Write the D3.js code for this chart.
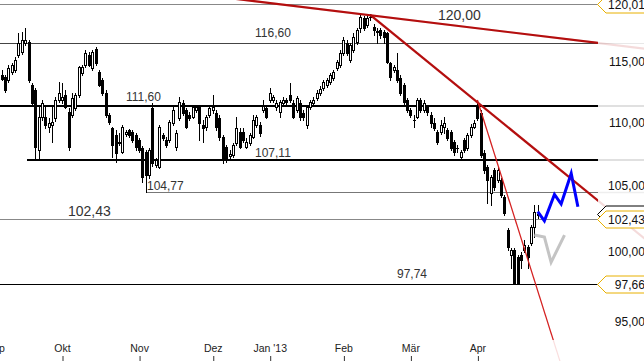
<!DOCTYPE html>
<html>
<head>
<meta charset="utf-8">
<script src="https://cdn.jsdelivr.net/npm/d3@7"></script>
<style>
body { margin: 0; background: #fff; }
svg { display: block; font-family: "Liberation Sans", Arial, sans-serif; }
</style>
</head>
<body>
<div id="chartDiv"></div>
<script>
// daily candles, Sep 2012 - Apr 2013 (one entry per trading day)
var opens = [114.57,113.90,113.73,113.48,114.15,114.32,115.60,115.85,116.62,116.71,
  113.07,112.65,107.77,110.43,110.43,109.62,109.78,110.34,111.82,111.82,
  112.24,110.84,110.59,111.16,112.24,114.07,114.75,115.60,114.49,116.11,
  114.15,113.48,112.40,110.59,109.54,108.97,108.33,107.61,109.06,109.38,
  109.22,108.97,108.57,107.93,107.61,105.81,111.16,106.59,106.43,108.97,
  108.57,108.57,109.94,108.01,110.34,111.57,111.00,110.59,110.43,111.00,
  111.25,109.78,109.62,110.59,111.00,110.75,110.34,108.81,108.01,107.30,
  107.37,108.33,109.22,109.22,108.01,108.33,108.81,109.78,109.78,111.00,
  111.16,111.82,111.82,111.25,110.84,111.57,111.82,112.24,111.57,111.00,
  111.57,110.75,109.78,111.25,111.57,111.99,112.40,112.82,113.07,113.31,
  113.65,114.49,114.75,115.77,116.62,115.17,116.02,116.71,117.92,118.80,
  118.19,118.88,118.01,117.66,117.75,117.58,117.49,114.92,114.32,114.32,
  113.65,113.07,111.82,111.00,110.18,110.43,111.82,111.00,111.25,110.59,
  109.94,109.22,109.22,109.62,109.38,109.22,108.41,107.93,107.22,108.57,
  107.93,108.97,109.62,111.41,110.75,107.53,106.43,104.41,106.20,105.41,
  105.41,104.10,101.60,99.74,100.11,99.59,99.74,100.11,100.33,100.63,
  101.83,102.73];
var highs = [116.02,114.32,113.90,114.75,114.92,115.42,117.49,117.58,117.92,116.88,
  113.23,112.82,111.41,111.82,111.41,110.34,111.25,112.07,113.31,113.23,
  112.65,111.16,112.40,112.40,114.66,114.75,116.02,115.85,116.02,116.28,
  114.32,113.65,112.65,110.75,109.62,109.38,109.14,109.78,109.38,109.46,
  109.38,109.14,108.73,108.09,107.77,107.93,111.57,107.14,109.78,109.14,
  108.81,110.18,111.41,109.38,112.07,111.82,111.16,110.84,111.41,111.41,
  111.41,110.18,110.59,111.41,112.24,111.00,110.59,108.97,108.17,107.77,
  108.33,110.43,109.54,109.54,108.73,109.14,110.59,110.59,110.02,111.82,
  111.41,112.82,112.24,111.82,111.82,112.07,111.99,113.23,111.82,112.15,
  111.82,111.00,111.41,111.82,112.07,112.65,112.98,113.48,113.65,114.07,
  114.32,115.17,116.02,117.14,116.88,116.62,117.49,117.92,119.06,118.97,
  119.06,119.15,118.27,117.92,117.92,117.75,117.58,115.00,114.75,115.77,
  113.90,113.23,111.99,111.16,110.59,111.99,111.99,111.82,111.41,110.84,
  110.34,109.38,110.18,110.43,109.54,109.38,108.57,108.17,107.77,108.73,
  109.14,109.86,110.18,111.82,111.00,107.77,106.59,105.81,106.36,106.43,
  105.57,104.26,101.75,100.26,100.26,99.74,99.96,100.85,100.48,101.98,
  103.49,103.49];
var lows = [114.32,113.48,112.48,113.31,113.98,114.15,115.42,115.68,116.45,113.31,
  111.49,106.98,106.98,110.18,109.54,109.22,108.41,110.10,111.66,111.57,
  111.16,107.77,110.43,111.00,112.07,113.90,114.57,114.66,114.32,114.75,
  112.98,112.24,110.43,109.86,107.22,106.82,108.17,107.53,108.89,108.81,
  108.41,107.77,107.61,105.26,104.48,105.57,106.51,106.43,106.36,108.57,
  108.01,108.41,109.78,107.77,110.18,110.59,109.54,110.18,110.34,110.84,
  108.57,108.41,109.38,110.43,110.75,109.38,108.57,106.75,106.82,107.14,
  107.22,108.17,107.93,108.41,107.93,108.17,108.73,109.62,108.89,110.84,
  110.34,111.66,111.66,111.00,110.43,111.41,111.49,111.66,110.34,110.84,
  110.18,110.18,109.54,111.08,111.41,111.82,112.24,112.65,112.90,113.15,
  113.48,114.32,114.57,115.60,115.60,115.00,115.85,116.54,117.58,117.75,
  118.01,118.62,117.32,116.62,117.06,116.62,114.92,113.48,114.15,113.31,
  112.24,111.49,110.84,110.43,109.62,110.34,110.84,110.84,110.59,109.62,
  109.38,108.25,109.06,109.14,108.57,107.77,107.37,107.61,106.98,107.61,
  107.77,108.81,109.54,110.18,107.22,105.96,103.64,103.49,104.64,105.26,
  104.10,102.73,100.11,98.78,97.70,97.664,98.78,99.96,98.78,100.48,
  101.08,102.50];
var closes = [115.77,113.56,112.65,114.49,114.75,115.17,116.62,116.88,116.88,113.48,
  111.57,108.01,110.43,111.57,109.78,109.94,110.02,111.82,112.40,112.07,
  111.25,108.01,111.99,112.24,114.57,114.57,115.77,114.75,115.85,114.92,
  113.07,112.40,110.59,110.02,108.17,107.53,108.41,109.62,109.22,108.97,
  108.57,108.01,107.77,105.65,105.81,107.77,106.75,106.98,109.62,108.73,
  108.17,110.02,111.00,109.14,111.66,110.75,109.62,110.34,111.25,111.25,
  109.94,109.54,110.43,111.16,111.25,109.62,108.81,106.98,106.98,107.45,
  108.17,109.54,108.01,108.57,108.41,108.97,110.18,110.43,109.14,111.33,
  110.43,112.40,112.07,111.57,111.66,111.82,111.66,111.82,110.43,111.99,
  110.43,110.43,111.25,111.66,111.82,112.40,112.73,113.31,113.48,113.90,
  114.15,115.00,115.77,116.88,115.77,116.45,117.14,117.75,118.88,117.92,
  118.80,118.88,117.75,117.58,117.32,117.14,115.00,113.73,114.57,113.48,
  112.40,111.66,111.00,110.59,110.18,111.82,111.00,111.57,110.84,109.94,
  109.54,108.41,109.78,109.94,108.73,107.93,107.61,107.93,107.61,107.77,
  108.97,109.62,109.94,110.34,107.37,106.20,105.41,105.65,104.87,106.20,
  104.26,102.88,100.33,100.11,97.75,97.70,99.37,100.48,99.59,101.83,
  102.96,102.81];

var monthLabels = ["Sep", "Okt", "Nov", "Dez", "Jan '13", "Feb", "Mär", "Apr"];
var monthStarts = [-1, 19, 42, 64, 81, 103, 123, 143];

var yTicks = [95, 100, 105, 110, 115];

// horizontal levels
var levelValues = [120.01, 116.60, 111.35, 106.98, 104.48, 102.43, 97.664];
var levelLabels = ["", "116,60", "111,60", "107,11", "104,77", "102,43", "97,74"];
var levelStart = [-1, -1, -1, 8.5, 44, -1, -1];

// trend lines, two anchors each: [day index, price]
var trendTop = [[111, 119.02], [170, 116.93]];
var trendMid = [[111, 119.05], [143, 111.63]];
var trendSteep = [[143, 111.82], [160, 97.92]];

// projected paths
var blueIdx = [161, 163, 166, 168, 171, 173];
var blueVals = [103.00, 102.30, 104.31, 103.57, 105.93, 103.36];
var greyIdx = [160, 163, 165, 169];
var greyVals = [101.23, 101.08, 99.22, 101.23];

var tagValues = [120.01, 102.43, 97.664];

var width = 644, height = 361,
    plotW = 598, plotH = 340;

var de = d3.formatLocale({decimal: ",", thousands: ".", grouping: [3], currency: ["", " €"]});
var fmt3 = de.format(".3f");

var x = d3.scaleLinear().domain([0, 161]).range([-1.65, 537.7]);
var y = d3.scaleLog().domain([95, 120.01]).range([321.3, 4]);

var svg = d3.select("#chartDiv").append("svg")
    .attr("width", width)
    .attr("height", height);

svg.append("defs").append("clipPath").attr("id", "clip")
    .append("rect").attr("x", 0).attr("y", 0).attr("width", plotW).attr("height", plotH);

var plot = svg.append("g").attr("clip-path", "url(#clip)");

//level lines, faint beyond the plot
var levelColor = ["#888", "#444", "#000", "#000", "#777", "#888", "#000"];
var levelWidth = [1, 1, 2, 2, 1.5, 1, 1];
levelValues.forEach(function (v, k) {
    var yy = Math.round(y(v)) + (levelWidth[k] % 2 ? 0.5 : 0);
    var x0 = levelStart[k] < 0 ? 0 : x(levelStart[k]);
    svg.append("line")
        .attr("x1", plotW).attr("x2", width)
        .attr("y1", yy).attr("y2", yy)
        .attr("stroke", levelColor[k]).attr("stroke-opacity", 0.12)
        .attr("stroke-width", levelWidth[k]);
    plot.append("line")
        .attr("x1", x0).attr("x2", plotW)
        .attr("y1", yy).attr("y2", yy)
        .attr("stroke", levelColor[k])
        .attr("stroke-width", levelWidth[k])
        .attr("shape-rendering", "crispEdges");
});

// candles
var candles = d3.range(opens.length).map(function (i) {
    return {i: i, o: opens[i], h: highs[i], l: lows[i], c: closes[i]};
});
var cg = plot.append("g").attr("shape-rendering", "crispEdges");
cg.selectAll("line.wick").data(candles).enter().append("line")
    .attr("class", "wick")
    .attr("x1", function (d) { return Math.round(x(d.i)) + 0.5; })
    .attr("x2", function (d) { return Math.round(x(d.i)) + 0.5; })
    .attr("y1", function (d) { return Math.round(y(d.h)); })
    .attr("y2", function (d) { return Math.round(y(d.l)) + 1; })
    .attr("stroke", "#000");
cg.selectAll("rect.body").data(candles).enter().append("rect")
    .attr("class", "body")
    .attr("x", function (d) { return Math.round(x(d.i)) - 1; })
    .attr("y", function (d) { return Math.round(y(Math.max(d.o, d.c))); })
    .attr("width", 3)
    .attr("height", function (d) {
        return Math.max(Math.round(y(Math.min(d.o, d.c))) - Math.round(y(Math.max(d.o, d.c))) + 1, 1);
    })
    .attr("fill", "#000");
cg.selectAll("rect.hollow").data(candles.filter(function (d) {
        return d.c > d.o && Math.round(y(d.o)) - Math.round(y(d.c)) > 1;
    })).enter().append("rect")
    .attr("class", "hollow")
    .attr("x", function (d) { return Math.round(x(d.i)); })
    .attr("y", function (d) { return Math.round(y(d.c)) + 1; })
    .attr("width", 1)
    .attr("height", function (d) { return Math.round(y(d.o)) - Math.round(y(d.c)) - 1; })
    .attr("fill", "#fff");

// trend lines
function through(p, x0, x1) {
    var ax = x(p[0][0]), ay = y(p[0][1]), bx = x(p[1][0]), by = y(p[1][1]);
    var m = (by - ay) / (bx - ax);
    return [[x0, ay + (x0 - ax) * m], [x1, ay + (x1 - ax) * m]];
}
var trends = [
    {pts: through(trendTop, -10, 700), w: 2.2, c: "#b40f0f"},
    {pts: through(trendMid, x(trendMid[0][0]), 700), w: 2.2, c: "#b40f0f"},
    {pts: through(trendSteep, x(trendSteep[0][0]), 620), w: 1.2, c: "#d42020"}
];
var line = d3.line();
trends.forEach(function (t) {
    svg.append("path").attr("d", line(t.pts))
        .attr("fill", "none").attr("stroke", t.c).attr("stroke-opacity", 0.15)
        .attr("stroke-width", t.w);
    plot.append("path").attr("d", line(t.pts))
        .attr("fill", "none").attr("stroke", t.c).attr("stroke-width", t.w);
});

// projections
var proj = d3.line()
    .x(function (d) { return x(d[0]); })
    .y(function (d) { return y(d[1]); });
plot.append("path")
    .attr("d", proj(d3.zip(greyIdx, greyVals)))
    .attr("fill", "none").attr("stroke", "#c4c4c4").attr("stroke-width", 3)
    .attr("stroke-linejoin", "miter");
plot.append("path")
    .attr("d", proj(d3.zip(blueIdx, blueVals)))
    .attr("fill", "none").attr("stroke", "#0000ff").attr("stroke-width", 3)
    .attr("stroke-linejoin", "miter");

// level annotations
var ann = [
    {k: 1, x: 255, size: 12, dy: -6},
    {k: 2, x: 126, size: 12, dy: -5},
    {k: 3, x: 255, size: 12, dy: -3},
    {k: 4, x: 147, size: 12, dy: -2},
    {k: 5, x: 68, size: 14, dy: -3},
    {k: 6, x: 397, size: 12, dy: -6}
];
svg.selectAll("text.lvl").data(ann).enter().append("text")
    .attr("class", "lvl")
    .attr("x", function (d) { return d.x; })
    .attr("y", function (d) { return Math.round(y(levelValues[d.k])) + d.dy; })
    .attr("font-size", function (d) { return d.size; })
    .attr("fill", "#333")
    .text(function (d) { return levelLabels[d.k]; });
svg.append("text")
    .attr("x", 438).attr("y", 20)
    .attr("font-size", 14).attr("fill", "#333")
    .text("120,00");

// right price axis
var yAxis = svg.append("g")
    .attr("transform", "translate(651.5,0)")
    .call(d3.axisRight(y).tickValues(yTicks).tickFormat(fmt3).tickSize(0).tickPadding(0));
yAxis.select(".domain").remove();
yAxis.selectAll("text")
    .attr("text-anchor", "end")
    .attr("font-size", 12)
    .attr("font-family", "Liberation Sans, Arial, sans-serif")
    .attr("fill", "#111");

// price tags
function tag(v, color, label) {
    var yy = Math.round(y(v)) + 0.5;
    var g = svg.append("g");
    g.append("path")
        .attr("d", "M" + 597.5 + "," + yy + "L606," + (yy - 8.5) + "L660," + (yy - 8.5) +
            "L660," + (yy + 8.5) + "L606," + (yy + 8.5) + "Z")
        .attr("fill", "#fff").attr("stroke", color).attr("stroke-width", 1);
    if (label) {
        g.append("text")
            .attr("x", 651.5).attr("y", yy).attr("dy", "0.35em")
            .attr("text-anchor", "end").attr("font-size", 12).attr("fill", "#111")
            .text(fmt3(v));
    }
}
// last price tag sits behind the 102,430 tag
tag(closes[closes.length - 1], "#000", false);
tagValues.forEach(function (v) { tag(v, "#e8b000", true); });

// month axis
var xAxis = svg.append("g")
    .attr("transform", "translate(0,356)")
    .call(d3.axisBottom(x).tickValues(monthStarts)
        .tickFormat(function (d, i) { return monthLabels[i]; })
        .tickSize(5));
xAxis.select(".domain").remove();
xAxis.selectAll(".tick line")
    .attr("transform", "translate(0.5,0)")
    .attr("stroke", "#333");
xAxis.selectAll("text")
    .attr("y", -4).attr("dy", 0)
    .attr("font-size", 10.5)
    .attr("font-family", "Liberation Sans, Arial, sans-serif")
    .attr("fill", "#222");
</script>
</body>
</html>
